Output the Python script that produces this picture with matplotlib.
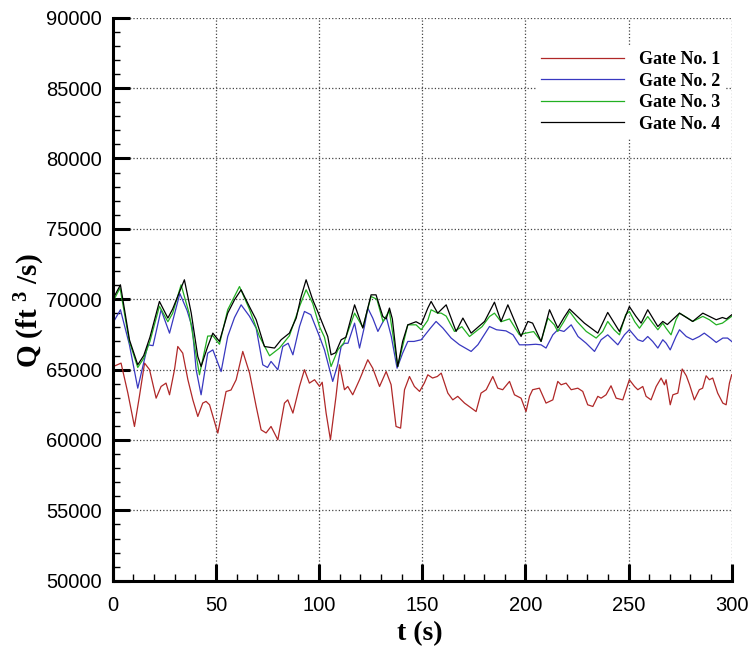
import matplotlib.pyplot as plt
from matplotlib.ticker import MultipleLocator

# Gate No. 1 (red)
t_gate1 = [0, 4, 7.3, 10.5, 12.9, 15.4, 17.8, 21, 23.4, 25.8, 27.5, 29.9, 31.5, 33.9, 36.4, 38.8,
           41.2, 43.6, 45.2, 46.9, 50.9, 54.9, 57.3, 59.8, 63, 66.3, 69.5, 71.9, 74.3, 76.7, 80,
           83.2, 84.8, 87.3, 90.5, 92.9, 95.3, 97.8, 100.2, 101.5, 103.4, 105.5, 108.2, 109.9,
           112.3, 113.9, 116.3, 119.6, 123.6, 126, 129.3, 132.5, 134.9, 137.3, 139.5, 141.4,
           143.8, 146.2, 148.7, 151, 152.7, 155, 157.3, 159.2, 162.4, 164.8, 167.2, 170.5,
           176.1, 178.5, 181, 184.2, 186.6, 189, 192.3, 194.7, 197.9, 200.3, 202, 203.5, 206.8,
           210, 213.3, 215.7, 217.3, 219.7, 222.2, 225.4, 227.8, 230.2, 232.7, 235.1, 236.7,
           239.1, 241.5, 244, 247.2, 248.8, 250.4, 252.9, 254.5, 256.9, 258.5, 260.9, 263.4,
           265.8, 267.4, 268.2, 270.2, 271.5, 273.9, 276, 278, 279.6, 281.9, 284.3, 285.9,
           287.6, 289.2, 290.8, 293.2, 295.7, 297.3, 298.9, 300]
q_gate1 = [65200, 65460, 63330, 60960, 63100, 65460, 65000, 62970, 63800, 64040, 63210, 64990,
           66640, 66170, 64280, 62850, 61670, 62620, 62740, 62500, 60490, 63440, 63550, 64280,
           66290, 64750, 62380, 60720, 60500, 60960, 60010, 62620, 62850, 61910, 63810, 64990,
           64040, 64280, 63810, 64100, 61910, 60010, 63100, 65340, 63570, 63800, 63210, 64280,
           65700, 65100, 63800, 64860, 63930, 60960, 60840, 63570, 64510, 63800, 63450, 64040,
           64630, 64400, 64510, 64750, 63330, 62850, 63100, 62620, 62020, 63330, 63570, 64510,
           63680, 63570, 64160, 63210, 62970, 62020, 63100, 63570, 63680, 62620, 62850, 64160,
           63920, 64040, 63570, 63680, 63450, 62500, 62380, 63100, 62970, 63210, 63850, 62970,
           62850, 63570, 64280, 63800, 63570, 63800, 63100, 62850, 63800, 64400, 63920, 64280,
           62500, 63210, 63330, 65040, 64560, 63920, 62850, 63570, 63680, 64560, 64280, 64400,
           63330, 62620, 62500, 64040, 64630]

# Gate No. 2 (blue)
t_gate2 = [0, 3.7, 8, 12.1, 17, 19.5, 23.4, 27.5, 32.5, 36, 38.5, 40.4, 42.8, 46, 48.5, 52.5,
           55.7, 59, 62.2, 66.2, 69.5, 72.7, 75, 76.7, 80, 82.4, 85, 87.3, 90.5, 92.9, 96,
           100.2, 102.6, 106.6, 109, 110.7, 112.3, 114, 117.2, 119.6, 122, 123.6, 126, 128.5,
           131, 132.5, 135, 137.8, 140.5, 143, 146, 149.5, 152.7, 154, 156.7, 160, 164, 168,
           173.7, 177, 179.5, 182.6, 186, 190.6, 194, 197.1, 201.2, 205, 207.6, 210, 213.3,
           215.7, 218.7, 222.2, 225.5, 229.4, 233.5, 236.7, 239.9, 242.3, 244.8, 248, 250.4,
           254.5, 256.9, 259.3, 261.7, 264.2, 266.6, 268.2, 270.2, 273, 274.7, 278, 281.1,
           284.3, 286.7, 289.9, 292.5, 295.7, 298, 300]
q_gate2 = [68300, 69250, 66800, 63680, 66760, 66700, 69250, 67590, 70400, 69200, 68000, 64990,
           63210, 66170, 66400, 64860, 67350, 68700, 69600, 68800, 67940, 65340, 65150, 65580,
           64990, 66640, 66870, 66050, 68060, 69130, 68900, 67350, 66400, 64160, 65340, 66640,
           66870, 66870, 68300, 66530, 68070, 69370, 68660, 67710, 68400, 68770, 67350, 65100,
           66170, 67000, 67000, 67120, 67710, 67950, 68420, 67950, 67240, 66770, 66290, 66770,
           67350, 68060, 67830, 67750, 67470, 66760, 66760, 66800, 66760, 66530, 67470, 67830,
           67710, 68180, 67350, 66880, 66290, 67120, 67470, 67120, 66760, 67470, 67830, 67120,
           67000, 67350, 67000, 66530, 67120, 66880, 66400, 67350, 67830, 67350, 67120, 67350,
           67590, 67240, 66930, 67240, 67240, 67000]

# Gate No. 3 (green)
t_gate3 = [0, 3.5, 8, 12.1, 15, 18, 22.6, 26.7, 29, 33.1, 37, 42, 46, 48.5, 51.7, 55.7, 61.4,
           66.2, 71.1, 76, 80.8, 85.6, 90.5, 93.7, 96.9, 100.2, 102.6, 105.8, 109.1, 112,
           117.2, 121.2, 125.2, 128, 131, 134, 138.1, 143, 147, 149.5, 152.7, 154.3, 157.5,
           159.2, 161.6, 165.6, 169.2, 172.9, 176, 179, 182.6, 185, 188.2, 192.3, 197.1, 200.5,
           204, 207.6, 210.9, 214, 215.7, 218.7, 221.4, 225, 229.5, 234.3, 237.5, 239.9, 243,
           245.6, 248.6, 250.4, 253, 255.3, 259.3, 261.7, 264.2, 266.6, 268.2, 270.6, 273,
           274.7, 278.7, 281.1, 286, 289.2, 292.5, 295.5, 300]
q_gate3 = [69800, 70800, 67000, 65150, 65800, 67000, 69500, 68400, 69000, 71020, 69000, 64630,
           67380, 67400, 66800, 69250, 70900, 69300, 67350, 65980, 66530, 67400, 69480, 70670,
           69700, 68060, 67300, 65220, 66400, 66900, 69010, 68000, 70190, 70000, 68400, 69200,
           65220, 68180, 68180, 67830, 68500, 69250, 69010, 69010, 68800, 67710, 68050, 67350,
           67710, 68050, 68770, 69010, 68400, 68600, 67470, 67600, 67700, 67000, 68660, 68180,
           67710, 68420, 69130, 68420, 67710, 67240, 67710, 68420, 67830, 67470, 68900, 69130,
           68400, 67940, 68770, 68300, 67830, 68300, 67940, 67470, 68540, 69010, 68660, 68420,
           68780, 68540, 68180, 68300, 68780]

# Gate No. 4 (black)
t_gate4 = [0, 3.7, 8.1, 12.1, 15, 18, 22.6, 26.7, 29, 34.7, 38, 41.2, 42.8, 46, 48.5, 51.7,
           55.7, 59, 62.2, 66.2, 69.5, 73.5, 78.4, 81.6, 85.6, 88.9, 91.3, 93.7, 96.9, 99.4,
           104.2, 105.8, 108, 110.7, 113, 117.2, 121.2, 125.2, 127.6, 130.9, 132.5, 134.1,
           135.5, 138.1, 140.5, 143, 147, 149.5, 152.7, 154.3, 157.5, 161.6, 166.4, 169.7,
           173.7, 180.2, 185, 188.2, 191.5, 197.9, 201.2, 203.5, 207.6, 211.7, 215.7, 218.7,
           221.4, 228.6, 235.1, 239.9, 245.6, 250.4, 253.5, 256.1, 259.3, 264.2, 266.6, 268.8,
           274.7, 281.1, 286, 292.5, 295.5, 297.5, 300]
q_gate4 = [70000, 71020, 67100, 65340, 66000, 67300, 69840, 68660, 69300, 71380, 69030, 65930,
           65220, 66640, 67590, 67000, 69010, 69960, 70670, 69480, 68540, 66640, 66530, 67120,
           67590, 68660, 70190, 71380, 69960, 69100, 67350, 66050, 66200, 67120, 67300, 69600,
           67950, 70310, 70310, 68770, 68600, 69370, 68600, 65220, 67000, 68180, 68400, 68200,
           69370, 69840, 69010, 69600, 67710, 68660, 67590, 68420, 69790, 68420, 69600, 67350,
           68420, 68300, 67000, 69250, 67950, 68700, 69300, 68300, 67590, 69060, 67710, 69480,
           68800, 68300, 69250, 68060, 68420, 68200, 69010, 68420, 69010, 68540, 68700, 68600,
           68890]

plt.rcParams['mathtext.fontset'] = 'custom'
plt.rcParams['mathtext.rm'] = 'Liberation Serif:bold'
plt.rcParams['mathtext.it'] = 'Liberation Serif:bold'
serif_bold = {'family': 'Liberation Serif', 'weight': 'bold'}

fig = plt.figure(figsize=(7.52, 6.54), dpi=100)
ax = fig.add_axes([0.150, 0.112, 0.823, 0.861])

ax.plot(t_gate1, q_gate1, color='#b02828', lw=0.9, label='Gate No. 1')
ax.plot(t_gate2, q_gate2, color='#3838c0', lw=0.9, label='Gate No. 2')
ax.plot(t_gate3, q_gate3, color='#22b022', lw=0.9, label='Gate No. 3')
ax.plot(t_gate4, q_gate4, color='black', lw=0.9, label='Gate No. 4')

ax.set_xlim(0, 300)
ax.set_ylim(50000, 90000)
ax.xaxis.set_major_locator(MultipleLocator(50))
ax.xaxis.set_minor_locator(MultipleLocator(10))
ax.yaxis.set_major_locator(MultipleLocator(5000))
ax.yaxis.set_minor_locator(MultipleLocator(1000))

ax.grid(True, which='major', linestyle=':', color='#444444', lw=0.9)
ax.spines['top'].set_visible(False)
ax.spines['right'].set_visible(False)
ax.spines['left'].set_linewidth(2.2)
ax.spines['bottom'].set_linewidth(2.2)
ax.tick_params(which='major', direction='in', length=12, width=2.2,
               labelsize=14.5, labelfontfamily='Liberation Sans')
ax.tick_params(axis='y', which='major', pad=8)
ax.tick_params(axis='x', which='major', pad=11)
ax.tick_params(which='minor', direction='in', length=5, width=1)

ax.set_xlabel('t (s)', fontdict=serif_bold, fontsize=20)
ax.set_ylabel('Q (ft $^{3}$ /s)', fontdict=serif_bold, fontsize=21)
ax.xaxis.set_label_coords(0.496, -0.072)
ax.yaxis.set_label_coords(-0.107, 0.48)

leg = ax.legend(loc='upper right', bbox_to_anchor=(0.99, 0.95), borderaxespad=0,
                prop={'family': 'Liberation Serif', 'weight': 'bold', 'size': 13},
                handlelength=4.6, handletextpad=0.8, labelspacing=0.25,
                frameon=True, fancybox=False, borderpad=0.3)
leg.get_frame().set_edgecolor('none')
leg.get_frame().set_facecolor('white')
leg.get_frame().set_alpha(1)

fig.savefig('out.png', dpi=100)
